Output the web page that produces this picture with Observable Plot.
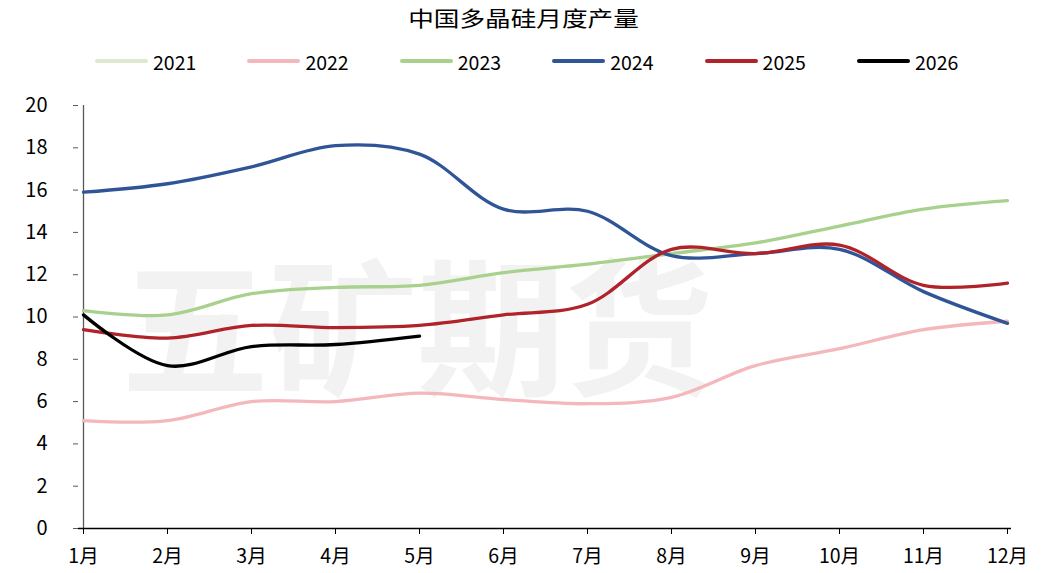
<!DOCTYPE html>
<html><head><meta charset="utf-8">
<script src="https://cdn.jsdelivr.net/npm/d3@7"></script>
<script src="https://cdn.jsdelivr.net/npm/@observablehq/plot@0.6"></script>
<style>
body{margin:0;background:#fff;font-family:"Noto Sans CJK SC","Noto Sans",sans-serif;}
#wrap{position:relative;width:1046px;height:573px;}
#title{position:absolute;top:2px;left:0;width:1046px;text-align:center;font-size:21px;color:#000;}
#title span{display:inline-block;transform:scaleX(1.22);}
.leg{position:absolute;top:48px;height:26px;display:flex;align-items:center;font-size:19.5px;color:#000;}
.leg span.sw{display:inline-block;width:53px;height:4px;border-radius:2px;margin-right:5px;}
#chart{position:absolute;top:85px;left:0;}
</style></head>
<body><div id="wrap"><div id="title"></div><div id="chart"></div></div>
<script>
const title = "中国多晶硅月度产量";
const watermark = "五矿期货";
const months = ["1月","2月","3月","4月","5月","6月","7月","8月","9月","10月","11月","12月"];
const years = ["2021","2022","2023","2024","2025","2026"];
const colors = ["#dcebd0","#f4b8bc","#a9d18e","#2f5597","#b0232a","#000000"];
const v2021 = [];
const v2022 = [5.1,5.1,6.0,6.0,6.4,6.1,5.9,6.2,7.7,8.5,9.4,9.8];
const v2023 = [10.3,10.1,11.1,11.4,11.5,12.1,12.5,13.0,13.5,14.3,15.1,15.5];
const v2024 = [15.9,16.3,17.1,18.1,17.7,15.1,15.0,12.9,13.0,13.2,11.2,9.7];
const v2025 = [9.4,9.0,9.6,9.5,9.6,10.1,10.6,13.2,13.0,13.4,11.5,11.6];
const v2026 = [10.1,7.7,8.6,8.7,9.1];
const yTicks = [0,2,4,6,8,10,12,14,16,18,20];

const series = [v2021,v2022,v2023,v2024,v2025,v2026];
const data = [];
series.forEach((vals,i)=>vals.forEach((v,j)=>data.push({year:years[i],month:months[j],value:v})));

const tspan = document.createElement("span");
tspan.textContent = title;
document.getElementById("title").appendChild(tspan);

// legend
const wrap = document.getElementById("wrap");
years.forEach((y,i)=>{
  const d = document.createElement("div");
  d.className="leg";
  d.style.left = (95 + i*152.4) + "px";
  d.innerHTML = `<span class="sw" style="background:${colors[i]}"></span>${y}`;
  wrap.appendChild(d);
});

const chart = Plot.plot({
  width:1046, height:488,
  marginTop:20, marginBottom:45, marginLeft:78, marginRight:35,
  style:{fontFamily:'"Noto Sans CJK SC","Noto Sans",sans-serif', background:"#fff"},
  x:{type:"point", domain:months, padding:0},
  y:{domain:[0,20]},
  color:{domain:years, range:colors},
  marks:[
    Plot.text([watermark],{frameAnchor:"middle", dx:-128, dy:20, fontSize:148, fontWeight:"bold", fill:"#f2f2f2", text:d=>d}),
    Plot.ruleX([months[0]],{y1:0,y2:20,stroke:"#595959",strokeWidth:1.3}),
    Plot.axisY({ticks:yTicks, tickSize:5, tickPadding:26, fontSize:20, label:null, stroke:"#595959", color:"#000", textAnchor:"end"}),
    Plot.axisX({tickSize:6, tickPadding:15, fontSize:19.5, label:null, color:"#000"}),
    Plot.line(data,{x:"month",y:"value",z:"year",stroke:"year",strokeWidth:3.3,curve:"catmull-rom"}),
    Plot.ruleY([0],{stroke:"#000",strokeWidth:1.3})
  ]
});
document.getElementById("chart").appendChild(chart);
</script></body></html>
